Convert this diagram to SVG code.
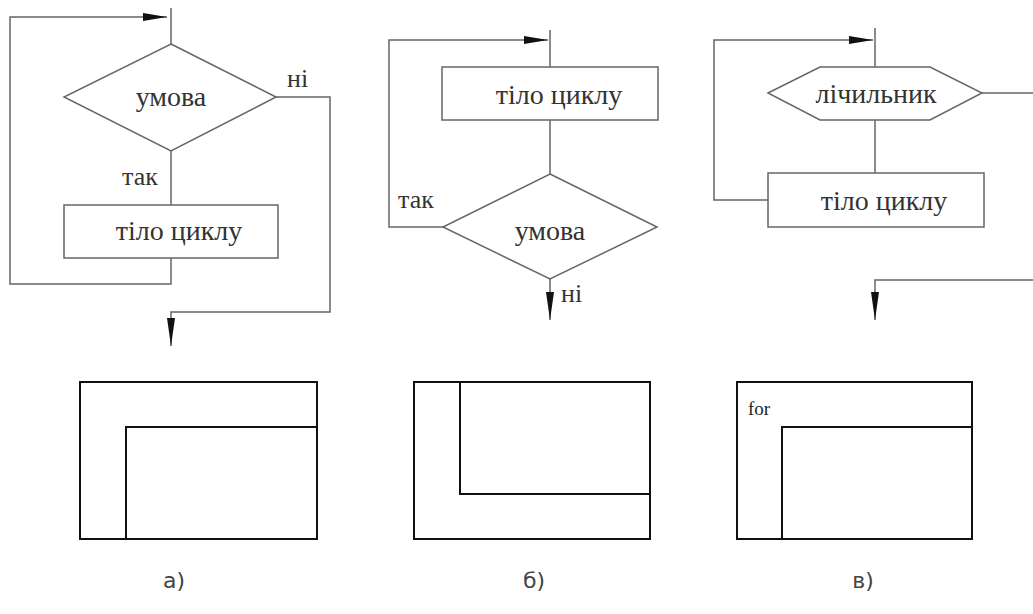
<svg xmlns="http://www.w3.org/2000/svg" width="1033" height="614" viewBox="0 0 1033 614">
<defs>
<marker id="arr" viewBox="0 0 24 8" refX="24" refY="4" markerWidth="24" markerHeight="8" markerUnits="userSpaceOnUse" orient="auto">
<path d="M0,0 L24,4 L0,8 Z" fill="#111"/>
</marker>
<marker id="arrd" viewBox="0 0 28 8" refX="28" refY="4" markerWidth="28" markerHeight="8" markerUnits="userSpaceOnUse" orient="auto">
<path d="M0,0 L28,4 L0,8 Z" fill="#111"/>
</marker>
</defs>
<style>
.ln{fill:none;stroke:#666;stroke-width:1.5}
.sh{fill:#fff;stroke:#666;stroke-width:1.5}
.bx{fill:none;stroke:#111;stroke-width:2}
.t{font-family:"Liberation Serif",serif;font-size:28px;fill:#333;text-anchor:middle}
.lb{font-family:"Liberation Serif",serif;font-size:26px;fill:#333}
.cap{font-family:"DejaVu Sans",sans-serif;font-size:22px;fill:#444;text-anchor:middle}
</style>
<rect width="1033" height="614" fill="#fff"/>

<g id="connectors">
<path class="ln" d="M171,8 V44"/>
<path class="ln" d="M171,258 V284 H10 V17 H167" marker-end="url(#arr)"/>
<path class="ln" d="M171,151 V205"/>
<path class="ln" d="M276,97 H330 V312 H171 V346" marker-end="url(#arrd)"/>
<path class="ln" d="M550,30 V67"/>
<path class="ln" d="M443,227 H389 V40 H548" marker-end="url(#arr)"/>
<path class="ln" d="M550,120 V174"/>
<path class="ln" d="M550,279 V320" marker-end="url(#arrd)"/>
<path class="ln" d="M875,28 V67"/>
<path class="ln" d="M768,200 H714 V40 H873" marker-end="url(#arr)"/>
<path class="ln" d="M875,120 V173"/>
<path class="ln" d="M982,93 H1033"/>
<path class="ln" d="M1033,280 H875 V320" marker-end="url(#arrd)"/>
</g>

<g id="a-cond">
<polygon class="sh" points="171,44 276,97 171,151 64,97"/>
<text class="t" x="171" y="106">умова</text>
</g>
<g id="a-body">
<rect class="sh" x="64" y="205" width="214" height="53"/>
<text class="t" x="179" y="240">тіло циклу</text>
</g>
<g id="a-labels">
<text class="lb" x="122" y="185">так</text>
<text class="lb" x="287" y="87">ні</text>
</g>

<g id="b-body">
<rect class="sh" x="442" y="67" width="216" height="53"/>
<text class="t" x="559" y="104">тіло циклу</text>
</g>
<g id="b-cond">
<polygon class="sh" points="550,174 657,227 550,279 443,227"/>
<text class="t" x="550" y="240">умова</text>
</g>
<g id="b-labels">
<text class="lb" x="398" y="208">так</text>
<text class="lb" x="561" y="302">ні</text>
</g>

<g id="c-counter">
<polygon class="sh" points="768,93 820,67 930,67 982,93 930,120 820,120"/>
<text class="t" x="876" y="103">лічильник</text>
</g>
<g id="c-body">
<rect class="sh" x="768" y="173" width="216" height="54"/>
<text class="t" x="884" y="210">тіло циклу</text>
</g>

<g id="nsd-a">
<rect class="bx" x="80" y="382" width="237" height="157"/>
<path class="bx" d="M126,539 V427 H317"/>
</g>
<g id="nsd-b">
<rect class="bx" x="414" y="382" width="236" height="157"/>
<path class="bx" d="M460,382 V494 H650"/>
</g>
<g id="nsd-c">
<rect class="bx" x="737" y="382" width="235" height="157"/>
<path class="bx" d="M782,539 V427 H972"/>
<text x="748" y="415" font-family="Liberation Serif, serif" font-size="19" fill="#222">for</text>
</g>

<g id="captions">
<text class="cap" x="174" y="588">а)</text>
<text class="cap" x="534" y="588">б)</text>
<text class="cap" x="863" y="588">в)</text>
</g>
</svg>
